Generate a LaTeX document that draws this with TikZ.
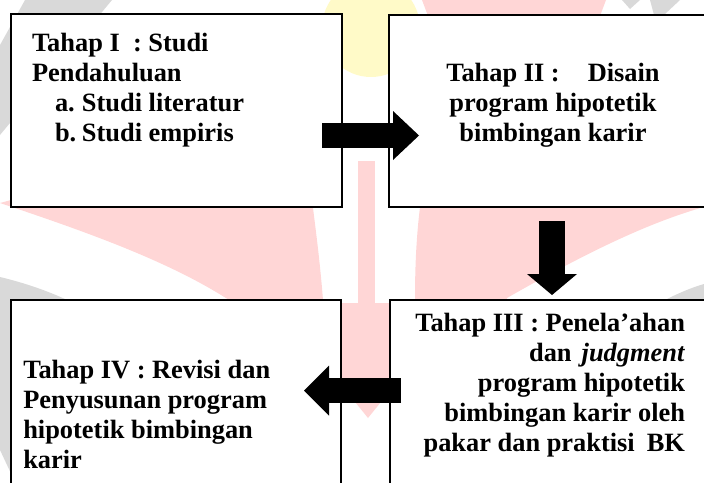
\documentclass[tikz,border=0pt]{standalone}
\usepackage{fontspec}
\setmainfont{Liberation Serif}
\usetikzlibrary{arrows.meta}
\definecolor{wmpink}{RGB}{255,214,214}
\definecolor{wmgrey}{RGB}{217,217,217}
\definecolor{wmyellow}{RGB}{255,250,200}
\tikzset{
  stagebox/.style={draw=black, line width=1.6pt, fill=white, inner sep=0pt, outer sep=0pt},
  stagetext/.style={inner sep=0pt, outer sep=0pt, font={\fontsize{26.4}{30}\selectfont\bfseries}},
  blockarrow/.style={line width=#1, draw=black},
  rhead/.style={-{Triangle[length=26pt, width=49pt, line width=0pt]}},
  dhead/.style={-{Triangle[length=21pt, width=50pt, line width=0pt]}},
  lhead/.style={-{Triangle[length=25pt, width=50pt, line width=0pt]}}
}
\begin{document}
\begin{tikzpicture}[x=1pt, y=-1pt]
\useasboundingbox (0,0) rectangle (704,482);
\clip (0,0) rectangle (704,482);
% watermark
\fill[wmyellow] (371,28) circle[radius=49pt];
\fill[wmpink] (0,203) .. controls (90,233) and (170,262) .. (229,300) -- (232,320) -- (326,320) -- (323,300) .. controls (320,262) and (316,232) .. (312,200) -- (11,200) -- cycle;
\fill[wmpink] (420,200) -- (420,207) .. controls (416,240) and (415,270) .. (415,300) -- (415,320) -- (505,320) -- (507,298) .. controls (570,262) and (640,225) .. (704,207) -- (704,200) -- cycle;
\fill[wmpink] (358,161) rectangle (375,305);
\fill[wmpink] (275,303) -- (461,303) -- (368,418) -- cycle;
\fill[wmpink] (422,0) -- (606,0) -- (600,16) -- (428,16) -- cycle;
\fill[wmgrey] (25,0) -- (112,0) -- (0,135) -- (0,45) -- cycle;
\fill[wmgrey] (622,0) -- (640,0) -- (630,9) -- cycle;
\fill[wmgrey] (650,0) -- (680,0) -- (664,15) -- (654,15) -- cycle;
\fill[wmgrey] (0,277) .. controls (25,283) and (48,291) .. (67,300) -- (120,340) -- (40,482) -- (15,482) -- (0,450) -- cycle;
\fill[wmgrey] (704,284) .. controls (690,288) and (677,294) .. (665,300) -- (665,310) -- (704,310) -- cycle;
% boxes
\node[stagebox, minimum width=331pt, minimum height=193pt] (b1) at (176.5,110.5) {};
\node[stagebox, minimum width=341pt, minimum height=192pt] (b2) at (559.5,111) {};
\node[stagebox, minimum width=330pt, minimum height=220pt] (b4) at (176,410) {};
\node[stagebox, minimum width=340pt, minimum height=220pt] (b3) at (560,410) {};
% texts
\node[stagetext, anchor=north west, align=left] (t1) at (32,30.7)
  {\strut Tahap I\ \ : Studi\\
   Pendahuluan\\
   \hspace*{23pt}\makebox[27pt][l]{a.}Studi literatur\\
   \hspace*{23pt}\makebox[27pt][l]{b.}Studi empiris};
\node[stagetext, anchor=north, align=center] (t2) at (553,60.7)
  {\strut Tahap II :\hspace{28pt}Disain\\
   program hipotetik\\
   bimbingan karir};
\node[stagetext, anchor=north east, align=right] (t3) at (685,310.7)
  {\strut Tahap III : Penela’ahan\\
   dan\hspace{10pt}\textit{judgment}\\
   program hipotetik\\
   bimbingan karir oleh\\
   pakar dan praktisi\hspace{12pt}BK};
\node[stagetext, anchor=north west, align=left] (t4) at (23.3,357)
  {\strut Tahap IV : Revisi dan\\
   Penyusunan program\\
   hipotetik bimbingan\\
   karir};
% arrows
\coordinate (a1s) at (322,135.5);
\coordinate (a1e) at (419,135.5);
\coordinate (a2s) at (552,221);
\coordinate (a2e) at (552,295);
\coordinate (a3s) at (401,390.5);
\coordinate (a3e) at (304,390.5);
\draw[blockarrow=25pt, rhead] (a1s) -- (a1e);
\draw[blockarrow=26pt, dhead] (a2s) -- (a2e);
\draw[blockarrow=25pt, lhead] (a3s) -- (a3e);
\end{tikzpicture}
\end{document}
